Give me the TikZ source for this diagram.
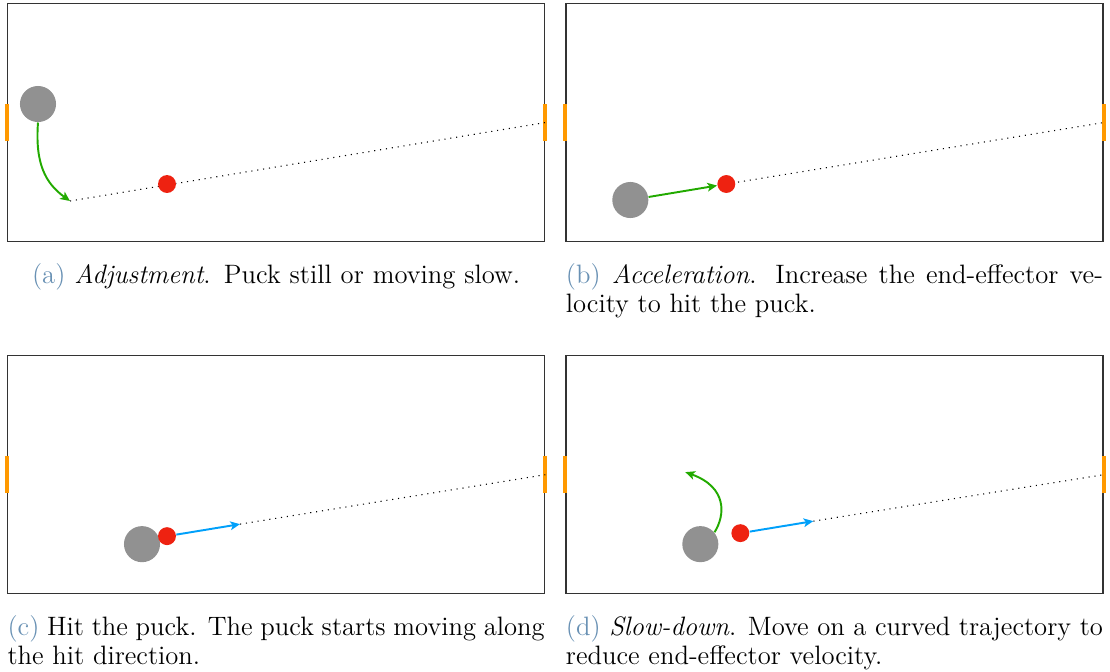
\documentclass[tikz,border=0pt]{standalone}
\usepackage{xcolor}
\usepackage{tikz}
\usetikzlibrary{positioning,arrows.meta}

\definecolor{puckgray}{RGB}{145,145,145}
\definecolor{effred}{RGB}{238,34,17}
\definecolor{pathgreen}{RGB}{34,170,0}
\definecolor{hitblue}{RGB}{0,160,250}
\definecolor{goalorange}{RGB}{255,153,0}
\definecolor{labelblue}{RGB}{105,145,180}

\begin{document}
\begin{tikzpicture}[x=0.4132pt, y=-0.4132pt,
table/.style={rectangle, draw=black!80, line width=0.5pt, minimum width=221.9pt, minimum height=98.3pt, inner sep=0pt},
goal/.style={rectangle, fill=goalorange, minimum width=1.65pt, minimum height=15.3pt, inner sep=0pt},
puck/.style={circle, fill=puckgray, minimum size=14.9pt, inner sep=0pt},
effector/.style={circle, fill=effred, minimum size=7.4pt, inner sep=0pt},
traj/.style={dotted, line width=0.45pt},
move/.style={-{Stealth[length=4pt, width=3.6pt, inset=1pt]}, line width=0.8pt},
caption/.style={text width=221.9pt, align=justify, inner sep=0pt, font=\fontsize{11}{12}\selectfont},
]
\useasboundingbox (0,0) rectangle (1110,671);

%Tables
\node[table, anchor=north west] (tabA) at (7,3) {};
\node[table]    (tabB)  [right=8.3pt of tabA]   {};
\node[table]    (tabC)  [below=46.7pt of tabA]  {};
\node[table]    (tabD)  [below=46.7pt of tabB]  {};

%Goals
\foreach \t in {tabA,tabB,tabC,tabD}{
  \node[goal] (\t-left)  at (\t.west) {};
  \node[goal] (\t-right) at (\t.east) {};
}

%(a) adjustment
\begin{scope}[shift={(tabA.north west)}]
\coordinate (hitA) at (63,198);
\draw[traj] (hitA) -- (tabA-right.center);
\node[puck]     (puckA) at (31,101)  {};
\node[effector] (effA)  at (160,181) {};
\draw[move, pathgreen] (puckA.south) .. controls (28,160) and (38,180) .. (hitA);
\end{scope}

%(b) acceleration
\begin{scope}[shift={(tabB.north west)}]
\coordinate (aimB) at (161,181);
\draw[traj] (aimB) -- (tabB-right.center);
\node[effector] (effB)  at (aimB)    {};
\node[puck]     (puckB) at (65,197)  {};
\draw[move, pathgreen] (puckB) -- (effB);
\end{scope}

%(c) hit
\begin{scope}[shift={(tabC.north west)}]
\coordinate (shotC) at (233,169);
\draw[traj] (shotC) -- (tabC-right.center);
\node[puck]     (puckC) at (135,189) {};
\node[effector] (effC)  at (160,181) {};
\draw[move, hitblue] (effC) -- (shotC);
\end{scope}

%(d) slow-down
\begin{scope}[shift={(tabD.north west)}]
\coordinate (shotD) at (248,166);
\coordinate (turnD) at (120,117);
\draw[traj] (shotD) -- (tabD-right.center);
\node[puck]     (puckD) at (135,189) {};
\node[effector] (effD)  at (175,178) {};
\draw[move, hitblue] (effD) -- (shotD);
\draw[move, pathgreen] (puckD.40) .. controls (160,160) and (162,132) .. (turnD);
\end{scope}

%Captions
\node[caption, align=center] (capA) [below=8.7pt of tabA]
  {\textcolor{labelblue}{(a)} \textit{Adjustment}. Puck still or moving slow.};
\node[caption] (capB) [below=8.7pt of tabB]
  {\textcolor{labelblue}{(b)} \textit{Acceleration}. Increase the end-effector velocity to hit the puck.};
\node[caption] (capC) [below=8.7pt of tabC]
  {\textcolor{labelblue}{(c)} Hit the puck. The puck starts moving along the hit direction.};
\node[caption] (capD) [below=8.7pt of tabD]
  {\textcolor{labelblue}{(d)} \textit{Slow-down}. Move on a curved trajectory to reduce end-effector velocity.};
\end{tikzpicture}
\end{document}
